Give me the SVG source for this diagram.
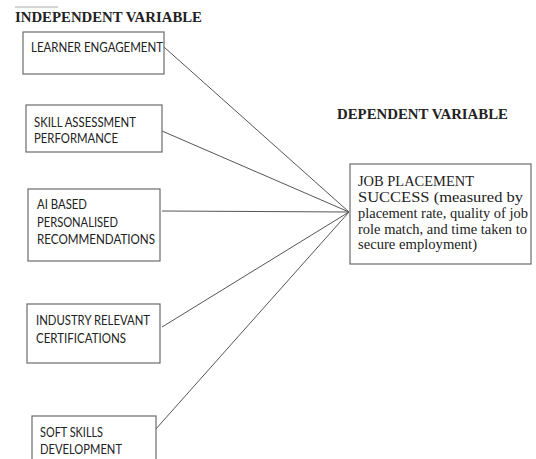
<svg xmlns="http://www.w3.org/2000/svg" width="536" height="459" viewBox="0 0 536 459">
<style>
.box{fill:#fff;stroke:#6b6b6b;stroke-width:1.2}
.lbl{font-family:Lato,"Open Sans","Liberation Sans",sans-serif;font-size:12.5px;fill:#222}
.ser{font-family:"Liberation Serif","Times New Roman",serif;font-size:14.5px;fill:#222}
.hd{font-family:"Liberation Serif","Times New Roman",serif;font-size:14.5px;font-weight:bold;fill:#222}
.conn line{stroke:#555;stroke-width:1}
</style>
<rect width="536" height="459" fill="#fff"/>
<line x1="15" y1="7" x2="58" y2="7" stroke="#aaa" stroke-width="1"/>
<text class="hd" x="15" y="22" textLength="187" lengthAdjust="spacingAndGlyphs">INDEPENDENT VARIABLE</text>
<text class="hd" x="337" y="119" textLength="171" lengthAdjust="spacingAndGlyphs">DEPENDENT VARIABLE</text>
<g class="conn">
<line x1="164" y1="47" x2="349" y2="212"/>
<line x1="162" y1="131" x2="349" y2="212"/>
<line x1="162" y1="211" x2="349" y2="212"/>
<line x1="162" y1="327" x2="349" y2="212"/>
<line x1="155" y1="430" x2="349" y2="212"/>
</g>
<g id="n1">
<rect class="box" x="23" y="32" width="141" height="42"/>
<text class="lbl" x="31" y="52" textLength="132" lengthAdjust="spacingAndGlyphs">LEARNER ENGAGEMENT</text>
</g>
<g id="n2">
<rect class="box" x="26" y="105" width="136" height="47"/>
<text class="lbl" x="34" y="127" textLength="102" lengthAdjust="spacingAndGlyphs">SKILL ASSESSMENT</text>
<text class="lbl" x="34" y="143" textLength="84" lengthAdjust="spacingAndGlyphs">PERFORMANCE</text>
</g>
<g id="n3">
<rect class="box" x="28" y="189" width="132" height="72"/>
<text class="lbl" x="37" y="209" textLength="50" lengthAdjust="spacingAndGlyphs">AI BASED</text>
<text class="lbl" x="37" y="227" textLength="81" lengthAdjust="spacingAndGlyphs">PERSONALISED</text>
<text class="lbl" x="37" y="244" textLength="118" lengthAdjust="spacingAndGlyphs">RECOMMENDATIONS</text>
</g>
<g id="n4">
<rect class="box" x="27" y="304" width="133" height="59"/>
<text class="lbl" x="36" y="325" textLength="114" lengthAdjust="spacingAndGlyphs">INDUSTRY RELEVANT</text>
<text class="lbl" x="36" y="343" textLength="90" lengthAdjust="spacingAndGlyphs">CERTIFICATIONS</text>
</g>
<g id="n5">
<rect class="box" x="32" y="416" width="124" height="60"/>
<text class="lbl" x="40" y="437" textLength="63" lengthAdjust="spacingAndGlyphs">SOFT SKILLS</text>
<text class="lbl" x="40" y="454" textLength="82" lengthAdjust="spacingAndGlyphs">DEVELOPMENT</text>
</g>
<g id="dv">
<rect class="box" x="350" y="164" width="181" height="100"/>
<text class="ser" x="358" y="186" textLength="116" lengthAdjust="spacingAndGlyphs">JOB PLACEMENT</text>
<text class="ser" x="358" y="202" textLength="165" lengthAdjust="spacingAndGlyphs">SUCCESS (measured by</text>
<text class="ser" x="358" y="218" textLength="170" lengthAdjust="spacingAndGlyphs">placement rate, quality of job</text>
<text class="ser" x="358" y="233.5" textLength="169" lengthAdjust="spacingAndGlyphs">role match, and time taken to</text>
<text class="ser" x="358" y="249" textLength="119" lengthAdjust="spacingAndGlyphs">secure employment)</text>
</g>
</svg>
